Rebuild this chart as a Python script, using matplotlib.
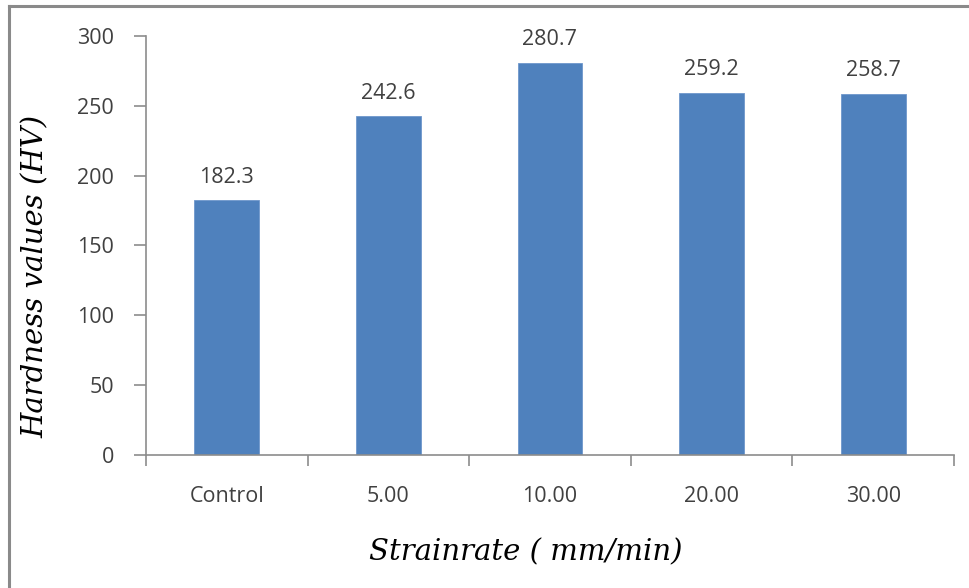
import matplotlib.pyplot as plt
import numpy as np
from matplotlib.lines import Line2D

# Hardness per strain rate
categories = ["Control", "5.00", "10.00", "20.00", "30.00"]
hardness = [182.3, 242.6, 280.7, 259.2, 258.7]

bar_color = "#4F81BD"
axis_color = "#8C8C8C"
text_color = "#404040"

fig = plt.figure(figsize=(9.7, 5.88), dpi=100)
ax = fig.add_axes([0.1505, 0.2262, 0.8330, 0.7126])

x = np.arange(len(categories))
bars = ax.bar(x, hardness, width=0.4, color=bar_color, edgecolor="#6E97CC", linewidth=0.6)

# value labels above bars
for xi, v in zip(x, hardness):
    ax.text(xi, v + 9, f"{v:.1f}", ha="center", va="bottom",
            fontsize=15.5, color=text_color, family="Open Sans")

ax.set_xlim(-0.5, len(categories) - 0.5)
ax.set_ylim(0, 300)
ax.set_yticks(np.arange(0, 301, 50))

# category labels at centres, tick marks between categories
ax.set_xticks(x)
ax.set_xticklabels(categories)
ax.set_xticks(np.arange(-0.5, len(categories)), minor=True)
ax.tick_params(axis="x", which="major", length=0, pad=22)
ax.tick_params(axis="x", which="minor", length=8, width=1.2, color=axis_color, direction="out")
ax.tick_params(axis="y", length=9, width=1.2, color=axis_color, pad=14)

for lbl in ax.get_xticklabels() + ax.get_yticklabels():
    lbl.set_fontsize(15.5)
    lbl.set_color(text_color)
    lbl.set_family("Open Sans")

for s in ["top", "right"]:
    ax.spines[s].set_visible(False)
for s in ["left", "bottom"]:
    ax.spines[s].set_color(axis_color)
    ax.spines[s].set_linewidth(1.2)

ax.set_xlabel("Strainrate ( mm/min)", fontsize=21, style="italic",
              family="DejaVu Serif", color="black", va="center")
ax.set_ylabel("Hardness values (HV)", fontsize=21, style="italic",
              family="DejaVu Serif", color="black", va="center")
ax.xaxis.set_label_coords(0.470, -0.2315)
ax.yaxis.set_label_coords(-0.137, 0.425)

# chart area frame (top and left edges)
fig.add_artist(Line2D([0.0093, 1.0], [0.9898, 0.9898], transform=fig.transFigure,
                      color="#8A8A8A", linewidth=2.2))
fig.add_artist(Line2D([0.0093, 0.0093], [0.0, 0.9898], transform=fig.transFigure,
                      color="#8A8A8A", linewidth=2.2))

fig.savefig("out.png", dpi=100)
